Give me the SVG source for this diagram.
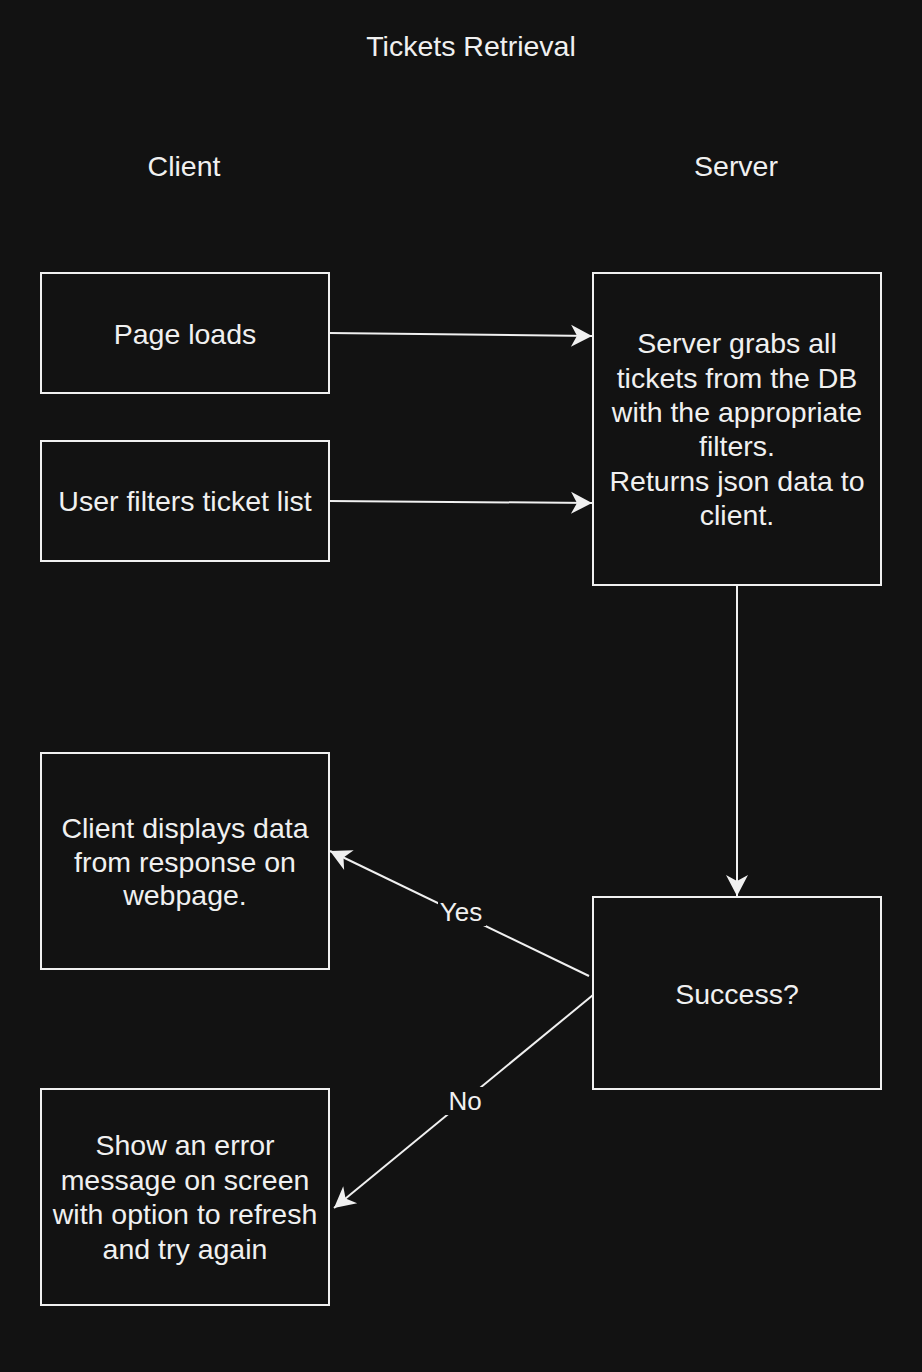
<svg xmlns="http://www.w3.org/2000/svg" width="922" height="1372" viewBox="0 0 922 1372">
<style>
.box{fill:#121212;stroke:#f0f0f0;stroke-width:2}
.t{font-family:"Liberation Sans",Arial,sans-serif;font-size:28.5px;fill:#f0f0f0;text-anchor:middle}
.lbl{font-family:"Liberation Sans",Arial,sans-serif;font-size:26px;fill:#f0f0f0;text-anchor:middle}
.c{stroke:#f0f0f0;stroke-width:2;fill:none;marker-end:url(#arr)}
</style>
<defs>
<marker id="arr" markerWidth="24" markerHeight="24" viewBox="0 0 24 24" refX="21" refY="12" orient="auto" markerUnits="userSpaceOnUse" overflow="visible">
<path d="M0,1 L21,12 L0,23 L6,12 Z" fill="#f0f0f0"/>
</marker>
</defs>
<rect width="922" height="1372" fill="#121212"/>
<text class="t" x="471" y="56">Tickets Retrieval</text>
<text class="t" x="184" y="176">Client</text>
<text class="t" x="736" y="176">Server</text>
<g id="connectors">
<path class="c" d="M329,333 L592,336"/>
<path class="c" d="M329,501 L592,503"/>
<path class="c" d="M737,585 L737,896"/>
<path class="c" d="M589,976 L330,851"/>
<path class="c" d="M593,995 L334,1208"/>
<rect x="438" y="898" width="48" height="28" fill="#121212"/>
<text class="lbl" x="461" y="921">Yes</text>
<rect x="445" y="1087" width="40" height="28" fill="#121212"/>
<text class="lbl" x="465" y="1110">No</text>
</g>
<g id="page-loads">
<rect class="box" x="41" y="273" width="288" height="120"/>
<text class="t" x="185" y="344">Page loads</text>
</g>
<g id="user-filters">
<rect class="box" x="41" y="441" width="288" height="120"/>
<text class="t" x="185" y="511">User filters ticket list</text>
</g>
<g id="server-grabs">
<rect class="box" x="593" y="273" width="288" height="312"/>
<text class="t" x="737" y="353">Server grabs all</text>
<text class="t" x="737" y="388">tickets from the DB</text>
<text class="t" x="737" y="422">with the appropriate</text>
<text class="t" x="737" y="456">filters.</text>
<text class="t" x="737" y="491">Returns json data to</text>
<text class="t" x="737" y="525">client.</text>
</g>
<g id="client-displays">
<rect class="box" x="41" y="753" width="288" height="216"/>
<text class="t" x="185" y="838">Client displays data</text>
<text class="t" x="185" y="872">from response on</text>
<text class="t" x="185" y="905">webpage.</text>
</g>
<g id="success">
<rect class="box" x="593" y="897" width="288" height="192"/>
<text class="t" x="737" y="1004">Success?</text>
</g>
<g id="show-error">
<rect class="box" x="41" y="1089" width="288" height="216"/>
<text class="t" x="185" y="1155">Show an error</text>
<text class="t" x="185" y="1190">message on screen</text>
<text class="t" x="185" y="1224">with option to refresh</text>
<text class="t" x="185" y="1259">and try again</text>
</g>
</svg>
